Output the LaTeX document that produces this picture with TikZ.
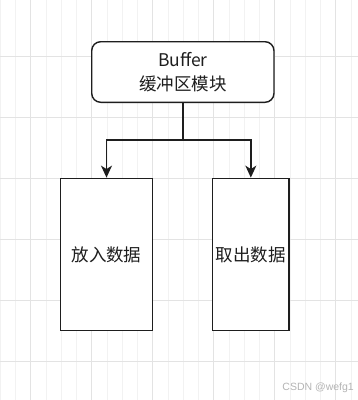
\documentclass[tikz,border=0pt]{standalone}
\usepackage{fontspec}
\setmainfont{Noto Sans CJK SC}
\newfontfamily\wmfont{Liberation Sans}
\usetikzlibrary{arrows.meta}
\definecolor{gridminor}{HTML}{F2F2F2}
\definecolor{gridmajor}{HTML}{E3E3E3}
\definecolor{edge}{HTML}{1E1E1E}
\definecolor{wmgray}{HTML}{B4B4B4}
\tikzset{
  boxbase/.style={draw=edge, line width=1.4pt, fill=white, inner sep=0pt, align=center, font=\fontsize{17.5}{24}\selectfont, text=edge},
  roundbox/.style={boxbase, rounded corners=9pt},
  plainbox/.style={boxbase},
  conn/.style={draw=edge, line width=1.4pt},
  arrconn/.style={conn, -{Stealth[length=12pt,width=11pt,inset=3.5pt]}},
}
\begin{document}
\begin{tikzpicture}[x=1pt,y=-1pt]
\useasboundingbox (0,0) rectangle (358,400);
\fill[white] (0,0) rectangle (358,400);
% grid
\foreach \i in {0,...,24} {
  \draw[gridminor, line width=0.8pt] ({0.2+15.25*\i},0) -- ({0.2+15.25*\i},400);
}
\foreach \i in {0,...,6} {
  \draw[gridmajor, line width=0.9pt] ({30.7+61*\i},0) -- ({30.7+61*\i},400);
}
\foreach \i in {0,...,6} {
  \draw[gridmajor, line width=0.9pt] (0,{-4.3+61*\i}) -- (358,{-4.3+61*\i});
}
% nodes
\node[roundbox, minimum width=182.3pt, minimum height=60.6pt] (top) at (182.85,72) {Buffer\\缓冲区模块};
\node[plainbox, minimum width=91.6pt, minimum height=152.4pt] (left) at (106.5,254.5) {放入数据};
\node[plainbox, minimum width=76.3pt, minimum height=152.4pt] (right) at (250.85,254.5) {取出数据};
\coordinate (j) at (182.85,140);
\draw[conn] (top.south) -- (j);
\draw[arrconn] (j) -| (left.north);
\draw[arrconn] (j) -| (right.north);
% watermark
\node[anchor=east, text=wmgray, font=\wmfont\fontsize{10.5}{12}\selectfont, inner sep=0pt] (wm) at (354,388) {CSDN @wefg1};
\end{tikzpicture}
\end{document}
